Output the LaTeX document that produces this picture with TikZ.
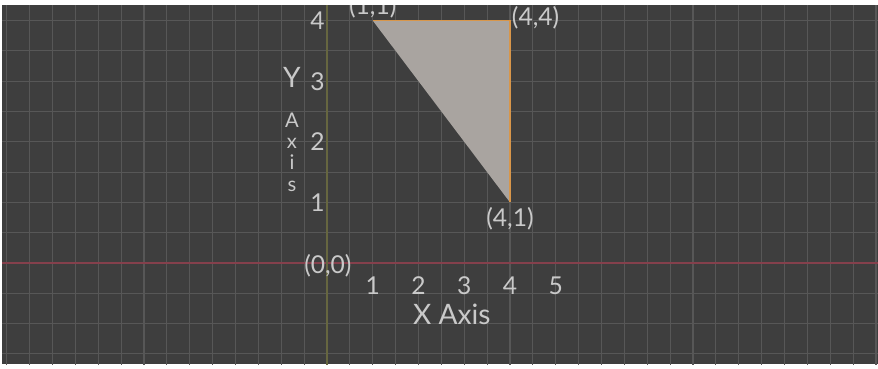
\documentclass[tikz,border=0pt]{standalone}
\usepackage{fontspec}
\setmainfont{Lato}
\usepackage{xcolor}
\usepackage{tikz}
\usetikzlibrary{positioning,calc}
\definecolor{fond}{HTML}{3E3E3E}
\definecolor{trait}{HTML}{575757}
\definecolor{axerouge}{HTML}{85404C}
\definecolor{axejaune}{HTML}{666640}
\definecolor{surface}{HTML}{A9A4A0}
\definecolor{arete}{HTML}{D8964A}
\definecolor{texte}{HTML}{C9C9C9}

\begin{document}
\begin{tikzpicture}[
    x=0.915cm,y=1.212cm,
    grille/.style = {trait, line width=0.6pt},
    axex/.style   = {axerouge, line width=0.7pt},
    axey/.style   = {axejaune, line width=0.6pt},
    etq/.style    = {text=texte, font=\fontsize{14}{16}\selectfont, inner sep=1pt},
    grad/.style   = {text=texte, font=\fontsize{14}{16}\selectfont, inner sep=1pt},
    titre/.style  = {text=texte, font=\fontsize{16}{18}\selectfont, inner sep=1pt},
    lettres/.style= {text=texte, font=\fontsize{11.5}{12.2}\selectfont, align=center, inner sep=0pt},
  ]

  \useasboundingbox[fill=white] (-7.148,-1.749) rectangle (12.044,4.340);
  \clip (-7.104,-1.675) rectangle (12.044,4.257);
  \fill[fond] (-7.104,-1.675) rectangle (12.044,4.257);

  % grille
  \foreach \gx in {-7,-6.5,...,12} \draw[grille] (\gx,-1.8) -- (\gx,4.4);
  \foreach \gy in {-1.5,-1,...,4} \draw[grille] (-7.2,\gy) -- (12.1,\gy);

  % axes
  \coordinate (xg) at (-7.2,0);
  \coordinate (xd) at (12.1,0);
  \coordinate (yb) at (0,-1.8);
  \coordinate (yh) at (0,4.4);
  \draw[axex] (xg) -- (xd);
  \draw[axey] (yb) -- (yh);

  % triangle
  \coordinate (pa) at (1,4);
  \coordinate (pb) at (4,4);
  \coordinate (pc) at (4,1);
  \fill[surface] (pa) -- (pb) -- (pc) -- cycle;
  \draw[arete, line width=0.6pt] (pa) -- (pb) -- (pc);

  \node[etq] (la) at (1.0,4.22)   {(1,1)};
  \node[etq] (lb) at (4.56,4.04)  {(4,4)};
  \node[etq] (lc) at (4.0,0.73)   {(4,1)};
  \node[etq] (lo) at (0.02,-0.04) {(0,0)};

  \foreach \k in {1,...,5} \node[grad] (gx\k) at (\k,-0.38) {\k};
  \foreach \k in {1,...,4} \node[grad] (gy\k) at (-0.21,\k) {\k};

  \node[titre]   (tx) at (2.73,-0.84) {X Axis};
  \node[titre]   (ty) at (-0.765,3.07) {Y};
  \node[lettres] (ta) at (-0.765,1.83) {A\\x\\i\\s};

\end{tikzpicture}
\end{document}
